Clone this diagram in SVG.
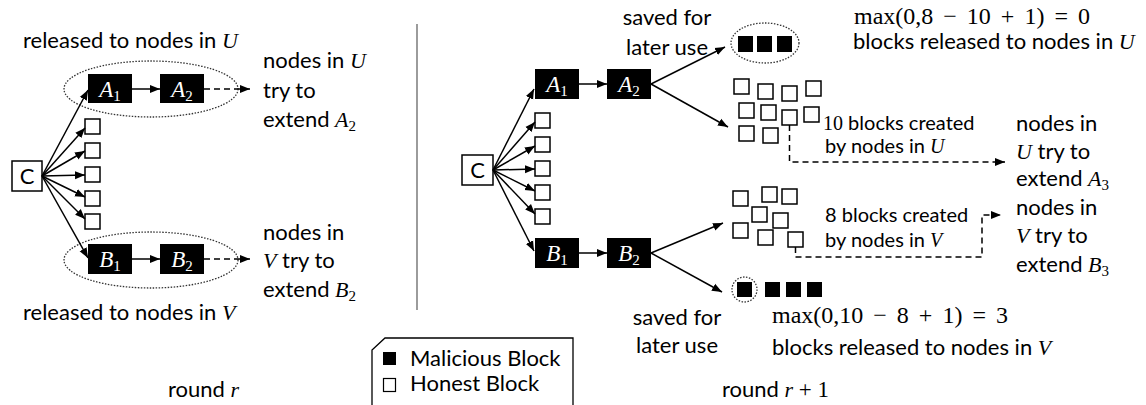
<svg xmlns="http://www.w3.org/2000/svg" width="1146" height="405" viewBox="0 0 1146 405">
<defs>
<style>
.t{font-family:Lato,"Liberation Sans",sans-serif;font-size:22px;fill:#000}
.s{font-family:Lato,"Liberation Sans",sans-serif;font-size:20px;fill:#000}
.m{font-family:"Liberation Serif","DejaVu Serif",serif;font-style:italic}
.n{font-family:"Liberation Serif","DejaVu Serif",serif;font-style:normal}
.mf{font-family:"Liberation Serif","DejaVu Serif",serif;font-size:24px;fill:#000;word-spacing:4px}
.bl{fill:#000}
.bt{font-family:"Liberation Serif","DejaVu Serif",serif;font-style:italic;font-size:23px;fill:#fff}
.hb{fill:#fff;stroke:#000;stroke-width:1.5}
.ln{stroke:#000;stroke-width:1.5;fill:none}
.dl{stroke:#000;stroke-width:1.5;fill:none;stroke-dasharray:6 4}
.el{fill:none;stroke:#333;stroke-width:1.3;stroke-dasharray:1.5 1.5}
</style>
<marker id="ah" viewBox="0 0 10 10" refX="10" refY="5" markerWidth="10" markerHeight="10" markerUnits="userSpaceOnUse" orient="auto"><path d="M0,1 L10,5 L0,9 z" fill="#000"/></marker>
</defs>
<rect width="1146" height="405" fill="#fff"/>

<!-- divider -->
<line x1="417" y1="24" x2="417" y2="310" stroke="#666" stroke-width="1.3"/>

<!-- ===== LEFT PANEL ===== -->
<g id="left-C"><rect x="12" y="161" width="30" height="30" class="hb"/><text x="27" y="184" class="t" text-anchor="middle">C</text></g>
<g id="left-ellipseA"><ellipse cx="151" cy="89" rx="87" ry="28" class="el"/></g>
<g id="left-A1"><rect x="88" y="74" width="44" height="29" class="bl"/><text x="110" y="97" class="bt" text-anchor="middle">A<tspan class="n" font-size="15" dy="4">1</tspan></text></g>
<g id="left-A2"><rect x="160" y="74" width="44" height="29" class="bl"/><text x="182" y="97" class="bt" text-anchor="middle">A<tspan class="n" font-size="15" dy="4">2</tspan></text></g>
<g id="left-h1"><rect x="85" y="119" width="15" height="15" class="hb"/></g>
<g id="left-h2"><rect x="85" y="143" width="15" height="15" class="hb"/></g>
<g id="left-h3"><rect x="85" y="167" width="15" height="15" class="hb"/></g>
<g id="left-h4"><rect x="85" y="191" width="15" height="15" class="hb"/></g>
<g id="left-h5"><rect x="85" y="214" width="15" height="15" class="hb"/></g>
<g id="left-ellipseB"><ellipse cx="151" cy="260" rx="87" ry="28" class="el"/></g>
<g id="left-B1"><rect x="88" y="244" width="44" height="30" class="bl"/><text x="110" y="267" class="bt" text-anchor="middle">B<tspan class="n" font-size="15" dy="4">1</tspan></text></g>
<g id="left-B2"><rect x="160" y="244" width="44" height="30" class="bl"/><text x="182" y="267" class="bt" text-anchor="middle">B<tspan class="n" font-size="15" dy="4">2</tspan></text></g>

<g id="left-connectors">
<line x1="42" y1="176" x2="88" y2="90" class="ln" marker-end="url(#ah)"/>
<line x1="42" y1="176" x2="85" y2="128" class="ln" marker-end="url(#ah)"/>
<line x1="42" y1="176" x2="85" y2="151" class="ln" marker-end="url(#ah)"/>
<line x1="42" y1="176" x2="85" y2="175" class="ln" marker-end="url(#ah)"/>
<line x1="42" y1="176" x2="85" y2="197" class="ln" marker-end="url(#ah)"/>
<line x1="42" y1="176" x2="85" y2="219" class="ln" marker-end="url(#ah)"/>
<line x1="42" y1="176" x2="88" y2="258" class="ln" marker-end="url(#ah)"/>
<line x1="132" y1="89" x2="160" y2="89" class="ln" marker-end="url(#ah)"/>
<line x1="132" y1="259" x2="160" y2="259" class="ln" marker-end="url(#ah)"/>
<line x1="204" y1="89" x2="250" y2="89" class="dl" marker-end="url(#ah)"/>
<line x1="204" y1="259" x2="250" y2="259" class="dl" marker-end="url(#ah)"/>
</g>

<g id="left-labels">
<text x="23" y="48" class="t">released to nodes in <tspan class="m">U</tspan></text>
<text x="263" y="68" class="t">nodes in <tspan class="m">U</tspan></text>
<text x="263" y="98" class="t">try to</text>
<text x="263" y="127" class="t">extend <tspan class="m">A</tspan><tspan class="n" font-size="15" dy="4">2</tspan></text>
<text x="263" y="240" class="t">nodes in</text>
<text x="263" y="268" class="t"><tspan class="m">V</tspan> try to</text>
<text x="263" y="297" class="t">extend <tspan class="m">B</tspan><tspan class="n" font-size="15" dy="4">2</tspan></text>
<text x="23" y="320" class="t">released to nodes in <tspan class="m">V</tspan></text>
<text x="168" y="397" class="t">round <tspan class="m">r</tspan></text>
</g>

<!-- ===== LEGEND ===== -->
<g id="legend">
<path d="M372,406 L372,350 L385,338 L573,338 L573,406" fill="none" stroke="#000" stroke-width="1.3"/>
<rect x="383" y="352" width="13" height="13" fill="#000"/>
<text x="410" y="366" class="t">Malicious Block</text>
<rect x="383.5" y="378.5" width="12" height="13" fill="#fff" stroke="#000" stroke-width="1.2"/>
<text x="410" y="391" class="t">Honest Block</text>
</g>

<!-- ===== RIGHT PANEL ===== -->
<g id="right-C"><rect x="462" y="155" width="31" height="30" class="hb"/><text x="477.5" y="178" class="t" text-anchor="middle">C</text></g>
<g id="right-A1"><rect x="535" y="69" width="44" height="30" class="bl"/><text x="557" y="92" class="bt" text-anchor="middle">A<tspan class="n" font-size="15" dy="4">1</tspan></text></g>
<g id="right-A2"><rect x="607" y="69" width="44" height="30" class="bl"/><text x="629" y="92" class="bt" text-anchor="middle">A<tspan class="n" font-size="15" dy="4">2</tspan></text></g>
<g id="right-h1"><rect x="535" y="113" width="15" height="15" class="hb"/></g>
<g id="right-h2"><rect x="535" y="137" width="15" height="15" class="hb"/></g>
<g id="right-h3"><rect x="535" y="161" width="15" height="15" class="hb"/></g>
<g id="right-h4"><rect x="535" y="185" width="15" height="15" class="hb"/></g>
<g id="right-h5"><rect x="535" y="209" width="15" height="15" class="hb"/></g>
<g id="right-B1"><rect x="535" y="238" width="44" height="30" class="bl"/><text x="557" y="261" class="bt" text-anchor="middle">B<tspan class="n" font-size="15" dy="4">1</tspan></text></g>
<g id="right-B2"><rect x="607" y="238" width="44" height="30" class="bl"/><text x="629" y="261" class="bt" text-anchor="middle">B<tspan class="n" font-size="15" dy="4">2</tspan></text></g>

<g id="saved-U">
<ellipse cx="765" cy="43" rx="34" ry="20" class="el"/>
<rect x="738" y="36" width="15" height="16" fill="#000"/>
<rect x="757" y="36" width="15" height="16" fill="#000"/>
<rect x="777" y="36" width="15" height="16" fill="#000"/>
</g>

<g id="honest-U">
<rect x="734" y="79" width="15" height="15" class="hb"/>
<rect x="758" y="84" width="15" height="15" class="hb"/>
<rect x="782" y="86" width="15" height="15" class="hb"/>
<rect x="806" y="81" width="15" height="15" class="hb"/>
<rect x="739" y="103" width="15" height="15" class="hb"/>
<rect x="761" y="105" width="15" height="15" class="hb"/>
<rect x="782" y="110" width="15" height="15" class="hb"/>
<rect x="804" y="107" width="15" height="15" class="hb"/>
<rect x="739" y="126" width="15" height="15" class="hb"/>
<rect x="763" y="128" width="15" height="15" class="hb"/>
</g>

<g id="honest-V">
<rect x="733" y="191" width="15" height="15" class="hb"/>
<rect x="762" y="187" width="15" height="15" class="hb"/>
<rect x="782" y="189" width="15" height="15" class="hb"/>
<rect x="752" y="207" width="15" height="15" class="hb"/>
<rect x="773" y="213" width="15" height="15" class="hb"/>
<rect x="733" y="223" width="15" height="15" class="hb"/>
<rect x="758" y="230" width="15" height="15" class="hb"/>
<rect x="788" y="232" width="15" height="15" class="hb"/>
</g>

<g id="saved-V">
<circle cx="744.5" cy="289.5" r="12.5" class="el"/>
<rect x="737" y="282" width="15" height="15" fill="#000"/>
<rect x="765" y="282" width="15" height="15" fill="#000"/>
<rect x="786" y="282" width="15" height="15" fill="#000"/>
<rect x="807" y="282" width="15" height="15" fill="#000"/>
</g>

<g id="right-connectors">
<line x1="493" y1="170" x2="534" y2="89" class="ln" marker-end="url(#ah)"/>
<line x1="493" y1="170" x2="535" y2="122" class="ln" marker-end="url(#ah)"/>
<line x1="493" y1="170" x2="535" y2="146" class="ln" marker-end="url(#ah)"/>
<line x1="493" y1="170" x2="535" y2="169" class="ln" marker-end="url(#ah)"/>
<line x1="493" y1="170" x2="535" y2="191" class="ln" marker-end="url(#ah)"/>
<line x1="493" y1="170" x2="535" y2="214" class="ln" marker-end="url(#ah)"/>
<line x1="493" y1="170" x2="534" y2="251" class="ln" marker-end="url(#ah)"/>
<line x1="579" y1="84" x2="607" y2="84" class="ln" marker-end="url(#ah)"/>
<line x1="579" y1="253" x2="607" y2="253" class="ln" marker-end="url(#ah)"/>
<line x1="651" y1="84" x2="725" y2="47" class="ln" marker-end="url(#ah)"/>
<line x1="651" y1="84" x2="728" y2="127" class="ln" marker-end="url(#ah)"/>
<line x1="651" y1="253" x2="723" y2="223" class="ln" marker-end="url(#ah)"/>
<line x1="651" y1="253" x2="722" y2="292" class="ln" marker-end="url(#ah)"/>
<path d="M789.5,125 V162 H1005" class="dl" marker-end="url(#ah)"/>
<path d="M795.5,247 V257 H982 V215 H1001" class="dl" marker-end="url(#ah)"/>
</g>

<g id="right-labels">
<text x="667" y="25" class="t" text-anchor="middle">saved for</text>
<text x="667" y="55" class="t" text-anchor="middle">later use</text>
<text x="854" y="24" class="mf">max(0,8 − 10 + 1) = 0</text>
<text x="853" y="49" class="t">blocks released to nodes in <tspan class="m">U</tspan></text>
<text x="823" y="130" class="s"><tspan class="n">10</tspan> blocks created</text>
<text x="825" y="153" class="s">by nodes in <tspan class="m">U</tspan></text>
<text x="1016" y="131" class="t">nodes in</text>
<text x="1016" y="159" class="t"><tspan class="m">U</tspan> try to</text>
<text x="1016" y="186" class="t">extend <tspan class="m">A</tspan><tspan class="n" font-size="15" dy="4">3</tspan></text>
<text x="825" y="222" class="s">8 blocks created</text>
<text x="825" y="247" class="s">by nodes in <tspan class="m">V</tspan></text>
<text x="1016" y="215" class="t">nodes in</text>
<text x="1016" y="243" class="t"><tspan class="m">V</tspan> try to</text>
<text x="1016" y="272" class="t">extend <tspan class="m">B</tspan><tspan class="n" font-size="15" dy="4">3</tspan></text>
<text x="677" y="325" class="t" text-anchor="middle">saved for</text>
<text x="677" y="353" class="t" text-anchor="middle">later use</text>
<text x="772" y="323" class="mf">max(0,10 − 8 + 1) = 3</text>
<text x="772" y="355" class="t">blocks released to nodes in <tspan class="m">V</tspan></text>
<text x="722" y="397" class="t">round <tspan class="m">r</tspan><tspan class="n" font-size="23"> + 1</tspan></text>
</g>
</svg>
